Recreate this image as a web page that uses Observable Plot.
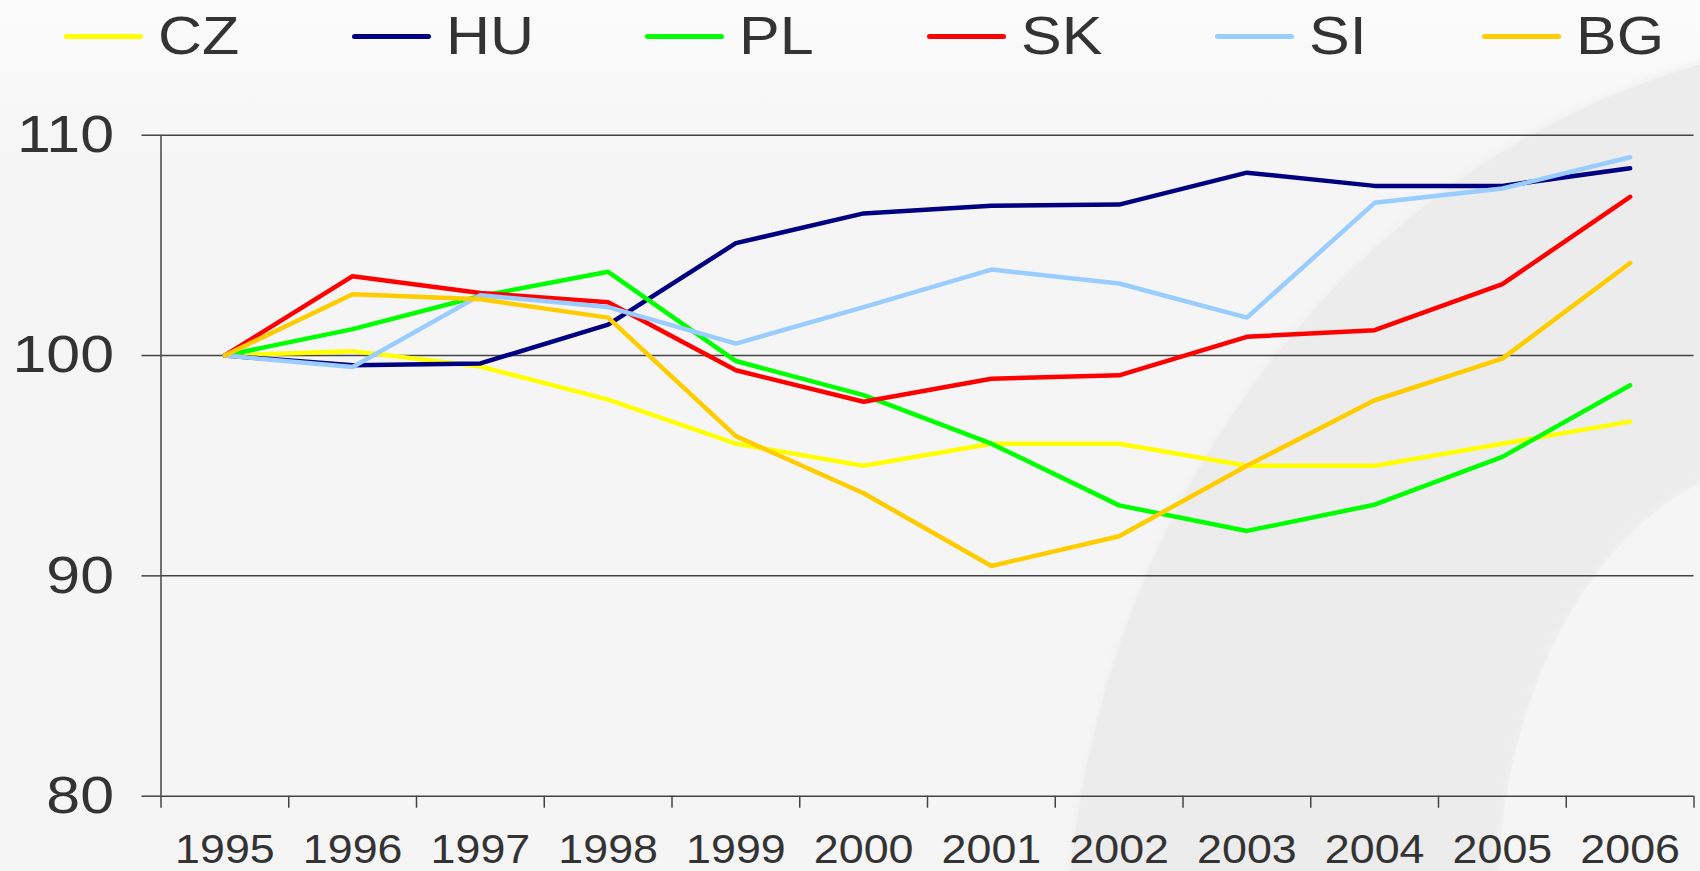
<!DOCTYPE html>
<html>
<head>
<meta charset="utf-8">
<script src="https://cdn.jsdelivr.net/npm/d3@7"></script>
<script src="https://cdn.jsdelivr.net/npm/@observablehq/plot@0.6"></script>
<style>
html, body { margin: 0; padding: 0; }
body {
  width: 1700px; height: 871px; position: relative; overflow: hidden;
  background: linear-gradient(#fbfbfb 0px, #f5f5f5 170px);
  font-family: "Liberation Sans", Arial, sans-serif; color: #333;
}
.deco { position: absolute; border-radius: 50%; }
#outer { left: 1065px; top: 35px; width: 1690px; height: 1890px; background: #ececec; box-shadow: 0 0 6px 2px #efefef; }
#inner { left: 1498px; top: 458px; width: 604px; height: 884px; background: #f5f5f5; box-shadow: 0 0 6px 2px #f1f1f1; }
#legend { position: relative; height: 80px; display: flex; padding-left: 64px; gap: 123px; }
.item { display: flex; align-items: center; height: 52px; margin-top: 10px; }
.sw { width: 79px; height: 5px; border-radius: 3px; margin-right: 15px; }
.lbl { font-size: 53px; line-height: 52px; display: inline-block; transform: scaleX(1.15); transform-origin: left center; }
#chart { position: relative; }
</style>
</head>
<body>
<div class="deco" id="outer"></div>
<div class="deco" id="inner"></div>
<div id="legend"></div>
<div id="chart"></div>
<script>
const years = [1995, 1996, 1997, 1998, 1999, 2000, 2001, 2002, 2003, 2004, 2005, 2006];
const countries = ["CZ", "HU", "PL", "SK", "SI", "BG"];
const colors = ["#ffff00", "#000080", "#00ff00", "#ff0000", "#99ccff", "#ffcc00"];
const CZ = [100, 100.2, 99.5, 98.0, 96.0, 95.0, 96.0, 96.0, 95.0, 95.0, 96.0, 97.0];
const HU = [100, 99.56, 99.64, 101.4, 105.1, 106.45, 106.8, 106.85, 108.3, 107.7, 107.7, 108.5];
const PL = [100, 101.2, 102.7, 103.8, 99.75, 98.2, 96.0, 93.2, 92.04, 93.23, 95.4, 98.65];
const SK = [100, 103.6, 102.84, 102.42, 99.33, 97.9, 98.95, 99.1, 100.85, 101.15, 103.24, 107.2];
const SI = [100, 99.48, 102.74, 102.2, 100.54, 102.2, 103.9, 103.27, 101.72, 106.93, 107.58, 109.0];
const BG = [100, 102.78, 102.55, 101.72, 96.34, 93.75, 90.45, 91.8, 95.0, 97.97, 99.86, 104.2];
const yTicks = [80, 90, 100, 110];

const series = {CZ, HU, PL, SK, SI, BG};
const data = countries.flatMap(c => years.map((yr, j) => ({country: c, year: yr, value: series[c][j]})));
const boundaries = years.map(y => y - 0.5).concat([years[years.length - 1] + 0.5]);

// Legend
const legend = document.getElementById("legend");
countries.forEach((c, i) => {
  const item = document.createElement("div");
  item.className = "item";
  const sw = document.createElement("div");
  sw.className = "sw";
  sw.style.background = colors[i];
  const lbl = document.createElement("span");
  lbl.className = "lbl";
  lbl.textContent = c;
  item.appendChild(sw);
  item.appendChild(lbl);
  legend.appendChild(item);
});

const axisColor = "#444";
const chart = Plot.plot({
  width: 1700,
  height: 791,
  marginTop: 54.7,
  marginBottom: 75.3,
  marginLeft: 160.5,
  marginRight: 6.5,
  style: {fontFamily: "'Liberation Sans', Arial, sans-serif", background: "transparent", color: "#333", overflow: "visible"},
  x: {type: "linear", domain: [boundaries[0], boundaries[boundaries.length - 1]], label: null},
  y: {domain: [yTicks[0], yTicks[yTicks.length - 1]], label: null},
  color: {domain: countries, range: colors},
  marks: [
    Plot.gridY(yTicks, {stroke: axisColor, strokeOpacity: 1, strokeWidth: 1.5}),
    Plot.axisY(yTicks, {label: null, tickSize: 19, tickPadding: 28, fontSize: 52, stroke: axisColor, strokeWidth: 1.5, fill: "#333", tickFormat: "d"}),
    Plot.ruleX([boundaries[0]], {y1: yTicks[0], y2: yTicks[yTicks.length - 1], stroke: axisColor, strokeWidth: 1.5}),
    Plot.axisX(boundaries, {label: null, tickSize: 12, tickFormat: () => "", stroke: axisColor, strokeWidth: 1.5}),
    Plot.axisX(years, {label: null, tickSize: 0, tickPadding: 38.5, fontSize: 40, fill: "#333", tickFormat: "d"}),
    Plot.line(data, {x: "year", y: "value", z: "country", stroke: "country", strokeWidth: 4.5, strokeLinejoin: "miter", strokeLinecap: "round"})
  ]
});
document.getElementById("chart").appendChild(chart);

// Horizontal stretch of the text, as in the original
chart.querySelectorAll('g[aria-label="y-axis tick label"] text').forEach(t => {
  t.setAttribute("transform", (t.getAttribute("transform") || "") + " scale(1.17,1)");
});
chart.querySelectorAll('g[aria-label="x-axis tick label"] text').forEach(t => {
  t.setAttribute("transform", (t.getAttribute("transform") || "") + " scale(1.12,1)");
});
</script>
</body>
</html>
